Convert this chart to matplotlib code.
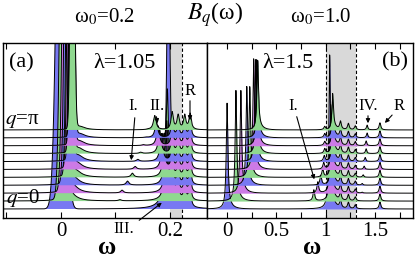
import numpy as np
import matplotlib
matplotlib.use('Agg')
import matplotlib.pyplot as plt

plt.rcParams['font.family'] = ['Liberation Serif', 'DejaVu Serif']
plt.rcParams['mathtext.fontset'] = 'stix'

# ---------------- data ----------------
n_q = 11  # q = 0, pi/10, ..., pi
fill_colors = ['#7878f2', '#8fd88f', '#cc7ae6']

# Panel (a): omega0 = 0.2, lambda = 1.05
a_main_pos = [0.000, 0.004, 0.008, 0.011, 0.014, 0.016, 0.018, 0.019, 0.020, 0.021, 0.021]
a_main_h = [60, 60, 60, 60, 60, 60, 60, 60, 60, 60, 60]
a_main_w = [0.0075, 0.005, 0.0045, 0.004, 0.0035, 0.0035, 0.003, 0.003, 0.003, 0.003, 0.003]
a_tail_h = [0.0, 1.2, 1.2, 1.1, 1.0, 1.0, 0.9, 0.8, 0.7, 0.6, 0.5]
a_I_pos = [0.105, 0.108, 0.112, 0.122, 0.131, 0.136, 0.141, 0.146, 0.151, 0.156, 0.160]
a_I_h = [0.0, 0.15, 0.35, 0.5, 0.5, 0.35, 0.25, 0.15, 0.1, 0.05, 0.05]
a_II_pos = [0.197, 0.195, 0.194, 0.192, 0.190, 0.187, 0.184, 0.181, 0.178, 0.175, 0.172]
a_II_h = [40, 14, 9, 7, 5.5, 4.5, 3.5, 3.0, 2.5, 2.0, 1.8]
a_fix_pos = [0.204, 0.215, 0.227, 0.237]
a_fix_h = [2.2, 1.8, 1.8, 2.0]

# Panel (b): omega0 = 1.0, lambda = 1.5
b_low_pos = [0.00, 0.09, 0.14, 0.20, 0.23, 0.27, 0.29, 0.30, 0.305, 0.31, 0.31]
b_low_h = [12.5, 13.0, 12.0, 11.5, 10.5, 13.0, 12.0, 11.0, 10.0, 9.0, 8.0]
b_low_tail = [0.9, 1.0, 1.0, 1.0, 1.0, 1.0, 0.9, 0.9, 0.8, 0.8, 0.8]
b_I_pos = [0.86, 0.88, 0.92, 0.95, 0.97, 0.98, 0.985, 0.99, 0.99, 0.99, 0.99]
b_I_h = [0.0, 1.4, 1.4, 1.2, 1.0, 0.8, 0.7, 0.6, 0.5, 0.5, 0.4]
b_main_pos = [1.04, 1.05, 1.05, 1.06, 1.06, 1.06, 1.07, 1.07, 1.07, 1.07, 1.07]
b_main_h = [18, 11, 9, 8, 7, 6, 5.5, 5, 4.5, 4.2, 4.0]
b_main_tail = [1.5, 1.2, 1.1, 1.0, 1.0, 0.9, 0.8, 0.8, 0.7, 0.7, 0.6]
b_IV_pos = [1.36, 1.36, 1.37, 1.37, 1.38, 1.39, 1.40, 1.41, 1.41, 1.42, 1.42]
b_IV_h = [0.0, 0.0, 0.1, 0.2, 0.3, 0.4, 0.5, 0.6, 0.6, 0.6, 0.6]
b_fix_pos = [1.15, 1.23, 1.30, 1.55]
b_fix_h = [1.0, 0.8, 0.5, 0.9]


def lor(x, x0, h, g):
    return h * g**2 / ((x - x0)**2 + g**2)


def gau(x, x0, h, s):
    return h * np.exp(-0.5 * ((x - x0) / s)**2)


def rtail(x, x0, h, d):
    # one-sided decaying tail on the high-frequency side of a peak
    t = np.clip((x - x0) / d, 0, None)
    return np.where(x >= x0, h * np.exp(-t), 0.0)


W, H = 415, 259
fig = plt.figure(figsize=(W / 100, H / 100), dpi=100)


def fx(x):
    return x / W


def fy(y):
    return 1 - y / H


bot, top = 218, 43
axa = fig.add_axes([fx(3), fy(bot), (207 - 3) / W, (bot - top) / H])
axb = fig.add_axes([fx(207), fy(bot), (413 - 207) / W, (bot - top) / H])
ylim = (-1.14, 21.0)

# ---- panel (a)
xa = np.linspace(-0.1064, 0.2679, 4000)
axa.axvspan(0.200, 0.222, color='#d9d9d9', zorder=0, lw=0)
axa.axvline(0.222, color='k', ls=(0, (3, 2)), lw=0.8, zorder=0.5)
for i in range(n_q):
    y = gau(xa, a_main_pos[i], a_main_h[i], a_main_w[i])
    y += lor(xa, a_main_pos[i] + 0.012, a_tail_h[i], 0.012)
    y += lor(xa, a_I_pos[i], a_I_h[i], 0.003)
    y += lor(xa, a_II_pos[i], a_II_h[i], 0.003)
    for p, hh in zip(a_fix_pos, a_fix_h):
        y += lor(xa, p, hh, 0.0025)
    axa.fill_between(xa, i, i + y, color=fill_colors[i % 3], lw=0, zorder=1 + 2 * i)
    axa.plot(xa, i + y, color='k', lw=0.7, zorder=2 + 2 * i)
axa.set_xlim(xa[0], xa[-1])
axa.set_ylim(*ylim)
axa.set_xticks([-0.1, 0.0, 0.1, 0.2])
axa.set_xticklabels(['', '0', '', '0.2'])

# ---- panel (b)
xb = np.linspace(-0.203, 1.885, 6000)
axb.axvspan(1.0, 1.31, color='#d9d9d9', zorder=0, lw=0)
for xv in (1.0, 1.31):
    axb.axvline(xv, color='k', ls=(0, (3, 2)), lw=0.8, zorder=0.5)
for i in range(n_q):
    y = lor(xb, b_low_pos[i], b_low_h[i], 0.010)
    y += rtail(xb, b_low_pos[i], b_low_tail[i], 0.04)
    y += lor(xb, b_I_pos[i], b_I_h[i], 0.01)
    y += lor(xb, b_main_pos[i], b_main_h[i], 0.010)
    y += rtail(xb, b_main_pos[i], b_main_tail[i], 0.04)
    y += lor(xb, b_IV_pos[i], b_IV_h[i], 0.008)
    for p, hh in zip(b_fix_pos, b_fix_h):
        y += lor(xb, p, hh, 0.01)
    axb.fill_between(xb, i, i + y, color=fill_colors[i % 3], lw=0, zorder=1 + 2 * i)
    axb.plot(xb, i + y, color='k', lw=0.7, zorder=2 + 2 * i)
axb.set_xlim(xb[0], xb[-1])
axb.set_ylim(*ylim)
axb.set_xticks(np.arange(0, 1.76, 0.25))
axb.set_xticklabels(['0', '', '0.5', '', '1', '', '1.5', ''])

for ax in (axa, axb):
    ax.set_yticks([])
    ax.tick_params(axis='x', direction='in', top=True, length=4, width=0.8,
                   labelsize=15, pad=3)
    for s in ax.spines.values():
        s.set_linewidth(1.0)
        s.set_zorder(50)

# ---- texts
fig.text(fx(107), fy(254), 'ω', fontsize=18, fontweight='bold', ha='center', va='baseline')
fig.text(fx(312), fy(254), 'ω', fontsize=18, fontweight='bold', ha='center', va='baseline')
fig.text(fx(104), fy(17), 'ω$_0$=0.2', fontsize=15, ha='center', va='center')
fig.text(fx(321), fy(17), 'ω$_0$=1.0', fontsize=15, ha='center', va='center')
fig.text(fx(215), fy(15), '$B_q$(ω)', fontsize=17, ha='center', va='center')
fig.text(fx(9), fy(63), '(a)', fontsize=16, ha='left', va='center', zorder=60)
fig.text(fx(93), fy(63), 'λ=1.05', fontsize=16, ha='left', va='center', zorder=60)
fig.text(fx(408), fy(62), '(b)', fontsize=16, ha='right', va='center', zorder=60)
fig.text(fx(262), fy(63), 'λ=1.5', fontsize=16, ha='left', va='center', zorder=60)
fig.text(fx(5), fy(121), '$q$=π', fontsize=15, ha='left', va='center', zorder=60)
fig.text(fx(6), fy(198), '$q$=0', fontsize=15, ha='left', va='center', zorder=60)

arrows = [
    ('I.', (133, 106), (135, 115), (131, 163)),
    ('II.', (157, 106), (156, 114), (158, 126)),
    ('R', (190, 91), (190, 98), (190, 123)),
    ('III.', (124, 229), (137, 222), (164, 201)),
    ('I.', (293, 106), (296, 114), (315, 182)),
    ('IV.', (368, 106), (368, 113), (368, 126)),
    ('R', (399, 106), (394, 113), (383, 125)),
]
for lab, tpos, start, end in arrows:
    fig.text(fx(tpos[0]), fy(tpos[1]), lab, fontsize=12, ha='center', va='center', zorder=60)
    fig.add_artist(matplotlib.patches.FancyArrowPatch(
        (fx(start[0]), fy(start[1])), (fx(end[0]), fy(end[1])),
        transform=fig.transFigure, arrowstyle='-|>', mutation_scale=6,
        lw=0.8, color='k', zorder=60))

fig.savefig('out.png', dpi=100)
